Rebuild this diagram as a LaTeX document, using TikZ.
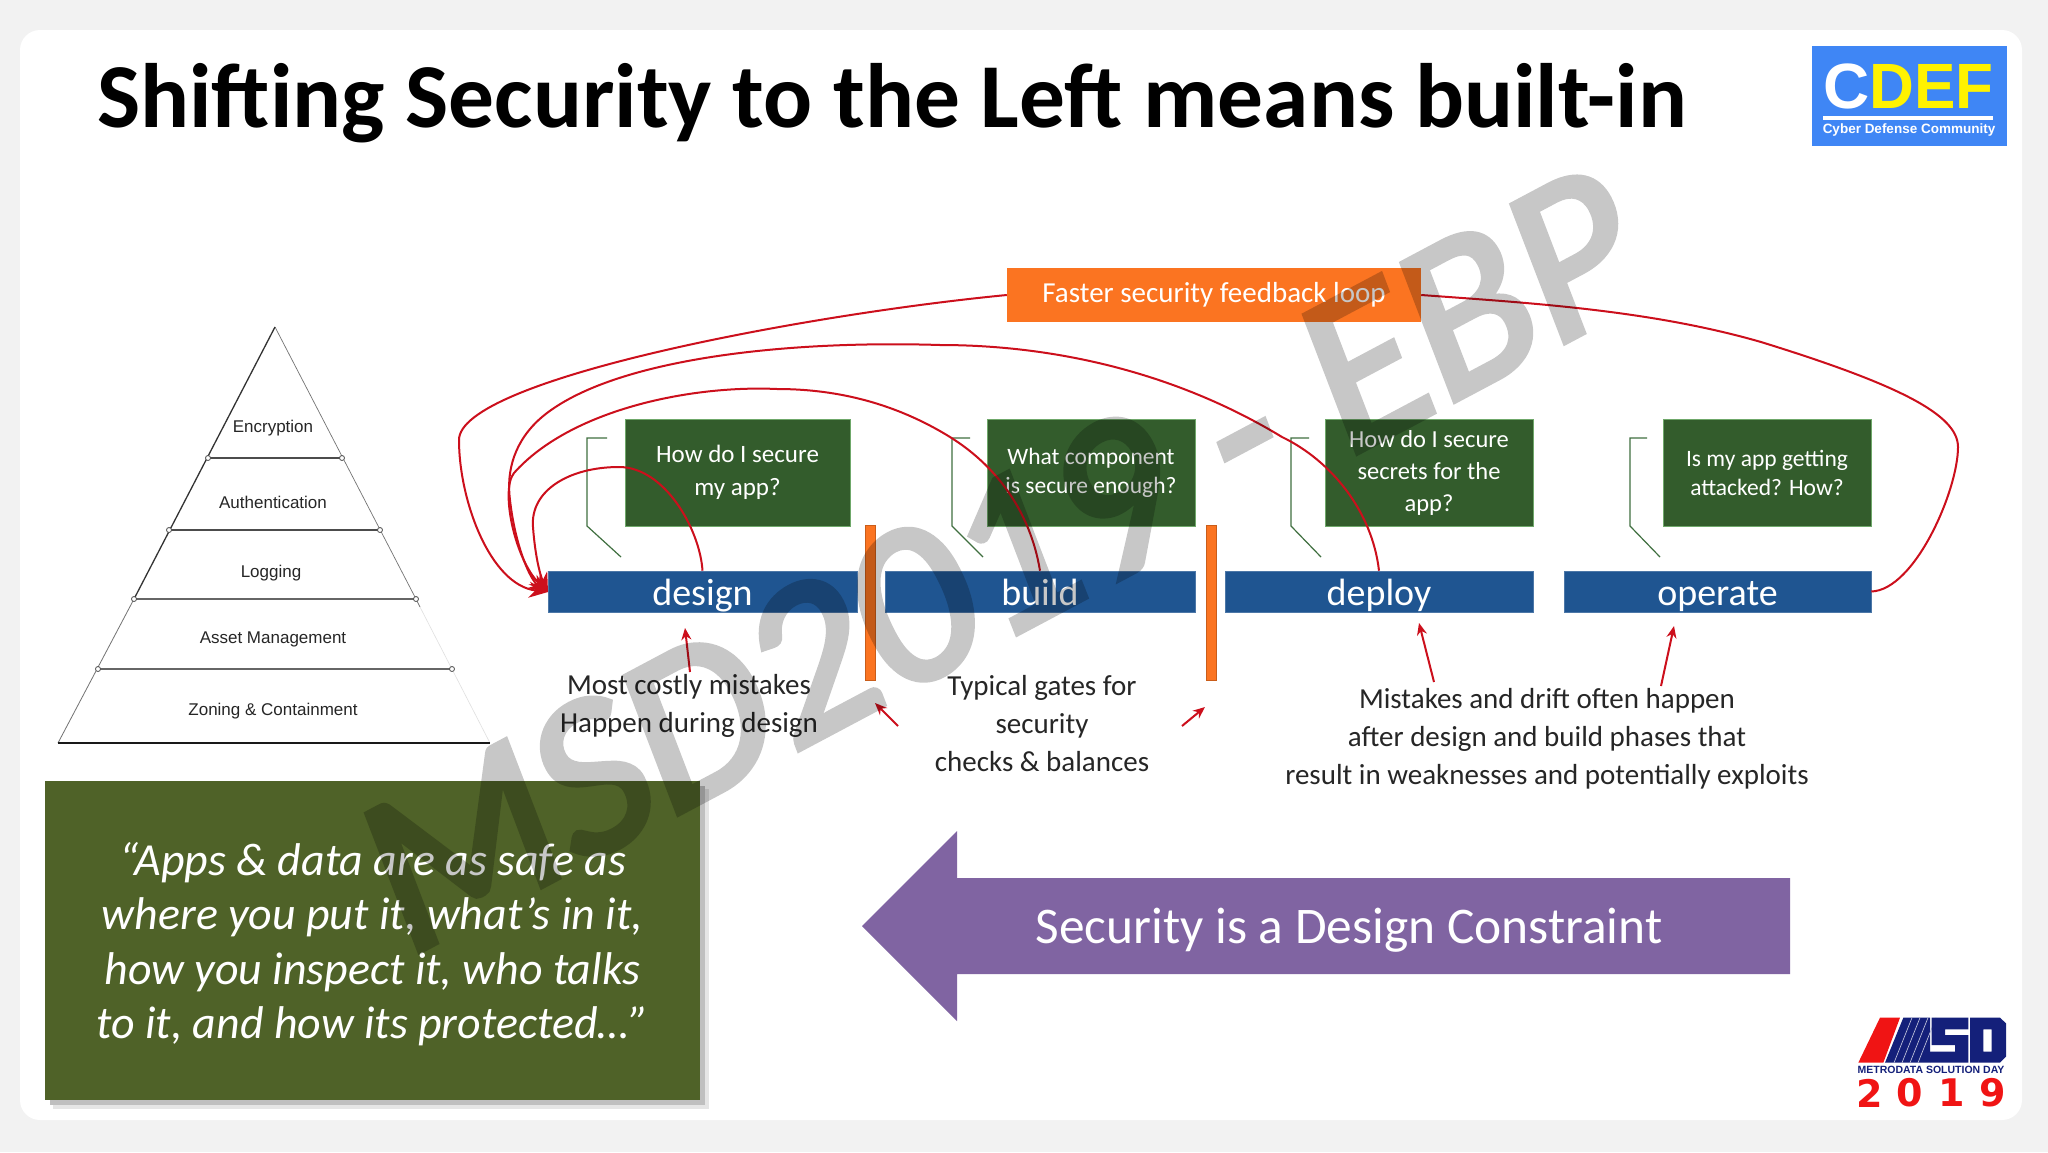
\documentclass[tikz,border=0pt]{standalone}
\usepackage{fontspec}
\setmainfont{Carlito}
\newfontfamily\arialf{Liberation Sans}
\newfontfamily\dejaf{DejaVu Sans}
\newfontfamily\wmf[UprightFont=Carlito Italic,FakeBold=3]{Carlito}
\newcommand{\fsz}[2]{\fontsize{#1}{#2}\selectfont}
\usetikzlibrary{arrows.meta}
\definecolor{bgc}{HTML}{F2F2F2}
\definecolor{gboxc}{HTML}{335C2C}
\definecolor{gborder}{HTML}{6FA86A}
\definecolor{bluec}{HTML}{1F5591}
\definecolor{orangec}{HTML}{FB7421}
\definecolor{olivec}{HTML}{4F6228}
\definecolor{purplec}{HTML}{8064A2}
\definecolor{redc}{HTML}{CC0F1C}
\definecolor{bracketc}{HTML}{3F6F3F}
\definecolor{cdefc}{HTML}{3F86F5}
\definecolor{navyc}{HTML}{14207A}
\definecolor{msdred}{HTML}{F01414}
\tikzset{
  gbox/.style={draw=gborder,line width=.8pt,fill=gboxc,text=white,inner sep=0pt,align=center,font=\fsz{25}{33}},
  bar/.style={draw=bluec!80!white,line width=.6pt,fill=bluec,text=white,inner sep=0pt,font=\fsz{38}{40},text height=32pt,text depth=5pt},
  gate/.style={fill=orangec,draw=orangec!80!black,line width=.5pt,inner sep=0pt},
  loopline/.style={draw=redc,line width=2pt},
  loophead/.style={-{Stealth[length=19pt,width=16pt]}},
  noteline/.style={draw=redc,line width=2pt,-{Stealth[length=12pt,width=10pt]}},
  brk/.style={draw=bracketc,line width=1.2pt},
  note/.style={align=center,inner sep=0pt,font=\fsz{29}{38},text=black!85},
  plabel/.style={inner sep=0pt,font=\arialf\fsz{17}{20},text=black!85},
  tier/.style={draw=black!70,line width=1.2pt},
  tierdot/.style={circle,draw=black!70,fill=white,line width=.8pt,minimum size=5pt,inner sep=0pt},
}
\begin{document}
\begin{tikzpicture}[x=1pt,y=-1pt]
\useasboundingbox (0,0) rectangle (2048,1152);
\fill[bgc] (0,0) rectangle (2048,1152);
\fill[white,rounded corners=20pt] (20,30) rectangle (2022,1120);
% title
\node[anchor=base west,inner sep=0pt,font=\bfseries\fsz{91.4}{92}] (title) at (97,127) {Shifting Security to the Left means built-in};
% CDEF logo
\node[fill=cdefc,minimum width=195pt,minimum height=100pt,inner sep=0pt] (cdef) at (1909.5,96) {};
\node[anchor=base west,inner sep=0pt,font=\arialf\bfseries\fsz{64}{64},text=white] (cdefc1) at (1823,108) {C};
\node[anchor=base west,inner sep=0pt,font=\arialf\bfseries\fsz{64}{64},text=yellow,xscale=.97] (cdefc2) at (1869,108) {DEF};
\fill[white] (1823,116) rectangle (1993,119.5);
\node[inner sep=0pt,font=\arialf\bfseries\fsz{13.5}{14},text=white] (cdefsub) at (1909,130) {Cyber Defense Community};
% MSD logo
\begin{scope}[shift={(1820,990)},x=.3333pt,y=-.3333pt]
\fill[msdred] (115,218) -- (180,83) -- (240,83) -- (190,218) -- (150,218) -- (170,170) -- (150,218) -- cycle;
\fill[navyc] (195,218) -- (250,83) -- (330,83) -- (330,218) -- cycle;
\foreach \k in {0,24,48,72} \draw[white!70!navyc,line width=.7pt] (222+\k,218) -- (276+\k,83);
\fill[navyc] (335,83) -- (445,83) -- (445,118) -- (375,118) -- (375,135) -- (445,135) -- (445,218) -- (330,218) -- (330,185) -- (405,185) -- (405,165) -- (335,165) -- cycle;
\fill[navyc,even odd rule] (450,83) -- (540,83) -- (558,100) -- (558,200) -- (540,218) -- (450,218) -- cycle (490,118) -- (490,185) -- (515,185) -- (515,118) -- cycle;
\end{scope}
\node[inner sep=0pt,font=\arialf\bfseries\fsz{10.5}{11},text=navyc] (msdsub) at (1931,1070) {METRODATA SOLUTION DAY};
\foreach \n/\d/\xx in {a/2/1870,b/0/1910,c/1/1952,d/9/1993}
  \node[inner sep=0pt,font=\dejaf\bfseries\fsz{38}{38},text=msdred] (y\n) at (\xx,1093) {\d};
% pyramid
\coordinate (apex) at (275,327);
\coordinate (pbl) at (58,743);
\coordinate (pbr) at (490,743);
\coordinate (t1l) at (208,458);\coordinate (t1r) at (342,458);
\coordinate (t2l) at (169,530);\coordinate (t2r) at (380,530);
\coordinate (t3l) at (134,599);\coordinate (t3r) at (416,599);
\coordinate (t4l) at (98,669);\coordinate (t4r) at (452,669);
\draw[black!55,line width=.7pt] (apex) -- (t3r) -- (420,607);
\draw[black!12,line width=.6pt] (420,607) -- (pbr);
\draw[black!80,line width=1.3pt] (apex) -- (t3l);
\draw[black!55,line width=.8pt] (t3l) -- (pbl);
\draw[tier] (t1l) -- (t1r);
\draw[tier] (t2l) -- (t2r);
\draw[tier,black!60,line width=1.6pt] (t3l) -- (t3r);
\draw[tier,black!60,line width=1.6pt] (t4l) -- (t4r);
\draw[black!90,line width=2pt] (pbl) -- (pbr);
\foreach \c in {t1l,t1r,t2l,t2r,t3l,t3r,t4l,t4r} \node[tierdot] at (\c) {};
\node[plabel] (p1) at (273,428) {Encryption};
\node[plabel] (p2) at (273,502) {Authentication};
\node[plabel] (p3) at (271,573) {Logging};
\node[plabel] (p4) at (273,639) {Asset Management};
\node[plabel] (p5) at (273,711) {Zoning \& Containment};
% green question boxes
\node[gbox,minimum width=225pt,minimum height=107pt] (q1) at (737.5,472.5) {\raisebox{-1pt}{How do I secure}\\\raisebox{-1pt}{my app?}};
\node[gbox,minimum width=208pt,minimum height=107pt,font=\fsz{23.5}{29}] (q2) at (1091,472.5) {What component\hspace{3pt}\\is secure enough?\hspace{3pt}};
\node[gbox,minimum width=208pt,minimum height=107pt,font=\fsz{24.5}{32}] (q3) at (1429,472.5) {How do I secure\hspace{2pt}\\secrets for the\hspace{2pt}\\app?\hspace{2pt}};
\node[gbox,minimum width=208pt,minimum height=107pt,font=\fsz{23.5}{29}] (q4) at (1767,472.5) {Is my app getting\\attacked? How?};
% brackets
\draw[brk] (607,438) -- (587,438) -- (587,526) -- (621,557);
\draw[brk] (970,438) -- (952,438) -- (952,526) -- (983,557);
\draw[brk] (1309,438) -- (1291,438) -- (1291,526) -- (1321,557);
\draw[brk] (1647,438) -- (1630,438) -- (1630,526) -- (1660,557);
% phase bars
\node[bar,minimum width=309pt,minimum height=41pt] (design) at (702.5,591.5) {design};
\node[bar,minimum width=310pt,minimum height=41pt] (build) at (1040,591.5) {build};
\node[bar,minimum width=308pt,minimum height=41pt] (deploy) at (1379,591.5) {deploy};
\node[bar,minimum width=307pt,minimum height=41pt] (operate) at (1717.5,591.5) {operate};
% gates
\node[gate,minimum width=10pt,minimum height=155pt] (gate1) at (870,602.5) {};
\node[gate,minimum width=10pt,minimum height=155pt] (gate2) at (1211,602.5) {};
% orange label
\node[fill=orangec,minimum width=414pt,minimum height=54pt,inner sep=0pt,text=white,font=\fsz{29}{30}] (fast) at (1214,295) {\raisebox{-4pt}{Faster security feedback loop}\hspace{40pt}};
% feedback curves
\coordinate (tip) at (548,592);
\draw[loopline,loophead] (fast.west) .. controls (800,315) and (459,380) .. (459,440) .. controls (459,500) and (490,585) .. (tip);
\draw[loopline,loophead] (deploy.north) .. controls (1372,510) and (1330,460) .. (1282,437) .. controls (1180,375) and (1060,345) .. (940,345) .. controls (780,340) and (610,360) .. (542,417) .. controls (515,440) and (506,470) .. (510,500) .. controls (515,545) and (530,580) .. (tip);
\draw[loopline,loophead] (build.north) .. controls (1030,510) and (995,465) .. (950,437) .. controls (890,400) and (830,389) .. (777,389) .. controls (690,385) and (570,410) .. (514,473) .. controls (500,490) and (515,560) .. (tip);
\draw[loopline,loophead] (design.north) .. controls (700,530) and (665,467) .. (619,467) .. controls (570,467) and (530,490) .. (533,527) .. controls (535,555) and (540,575) .. (tip);
\draw[loopline] (operate.east) .. controls (1915,590) and (1958,490) .. (1958,447) .. controls (1958,415) and (1900,385) .. (1761,342) .. controls (1650,310) and (1530,303) .. (fast.east);
% notes
\node[note] (n1) at (689,706) {Most costly mistakes\\Happen during design};
\node[note] (n2) at (1042,723.5) {Typical gates for\\security\\checks \& balances};
\node[note] (n3) at (1547,739) {Mistakes and drift often happen\\after design and build phases that\\result in weaknesses and potentially exploits};
\coordinate (a1) at (690,672); \coordinate (a1t) at (685,628);
\coordinate (a2) at (898,726); \coordinate (a2t) at (875,703);
\coordinate (a3) at (1182,726); \coordinate (a3t) at (1205,707);
\coordinate (a4) at (1434,682); \coordinate (a4t) at (1419,623);
\coordinate (a5) at (1661,686); \coordinate (a5t) at (1674,626);
\draw[noteline] (a1) -- (a1t);
\draw[noteline] (a2) -- (a2t);
\draw[noteline] (a3) -- (a3t);
\draw[noteline] (a4) -- (a4t);
\draw[noteline] (a5) -- (a5t);
% quote box
\fill[black!10] (53,789) rectangle (709,1109);
\fill[black!25] (50,786) rectangle (705,1105);
\node[fill=olivec,minimum width=655pt,minimum height=319pt,inner sep=0pt] (quote) at (372.5,940.5) {};
\node[inner sep=0pt,text=white,align=center,font=\itshape\fsz{45.9}{54.5}] (quotetext) at (372.5,944) {“Apps \& data are as safe as\\where you put it, what’s in it,\\how you inspect it, who talks\\to it, and how its protected…”};
% purple arrow
\fill[purplec] (862,926) -- (957,831) -- (957,878) -- (1790,878) -- (1790,974) -- (957,974) -- (957,1021) -- cycle;
\node[inner sep=0pt,text=white,font=\fsz{51.4}{52}] (sec) at (1349,930) {Security is a Design Constraint};
% watermark
\begin{scope}[transparency group,opacity=.22]
\node[inner sep=0pt,text=black,rotate=28,font=\wmf\fsz{226}{226}] (wm) at (1000,560) {MSD2019 - EBP};
\end{scope}
\end{tikzpicture}
\end{document}
